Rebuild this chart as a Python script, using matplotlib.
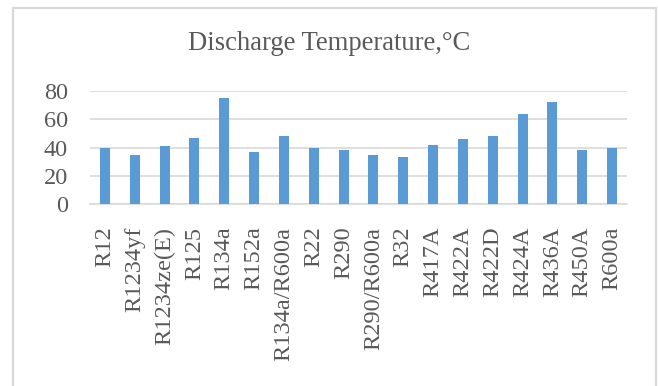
import matplotlib.pyplot as plt
from matplotlib.patches import Rectangle

# refrigerants and their discharge temperatures (°C)
refrigerants = ['R12', 'R1234yf', 'R1234ze(E)', 'R125', 'R134a', 'R152a',
                'R134a/R600a', 'R22', 'R290', 'R290/R600a', 'R32', 'R417A',
                'R422A', 'R422D', 'R424A', 'R436A', 'R450A', 'R600a']
discharge_temp = [40, 35, 41, 47, 75, 37, 48, 40, 38,
                  35, 33, 42, 46, 48, 63.5, 72, 38, 40]
y_ticks = [0, 20, 40, 60, 80]

plt.rcParams['font.family'] = ['Liberation Serif', 'DejaVu Serif']
text_color = '#595959'
grid_color = '#D9D9D9'

fig = plt.figure(figsize=(6.58, 3.86), dpi=100)
ax = fig.add_axes([90 / 658, 1 - 204.3 / 386, 537 / 658, 113.6 / 386])

# chart area frame (runs past the bottom edge)
fig.patches.append(Rectangle((13 / 658, -0.1), 643 / 658, 1.1 - 7.5 / 386,
                             transform=fig.transFigure, fill=False,
                             edgecolor=grid_color, linewidth=1.6))

x = range(len(refrigerants))
ax.bar(x, discharge_temp, width=0.34, color='#5B9BD5', zorder=3)

ax.set_xlim(-0.5, len(refrigerants) - 0.5)
ax.set_ylim(0, 80)
ax.set_yticks(y_ticks)
ax.set_yticklabels([str(v) for v in y_ticks])
ax.set_xticks(list(x))
ax.set_xticklabels(refrigerants, rotation=90)
ax.yaxis.grid(True, color=grid_color, linewidth=1.2, zorder=0)

for side in ['top', 'right', 'left']:
    ax.spines[side].set_visible(False)
ax.spines['bottom'].set_color(grid_color)
ax.spines['bottom'].set_linewidth(1.2)

ax.tick_params(axis='both', length=0, labelcolor=text_color)
ax.tick_params(axis='y', pad=16, labelsize=17.5)
ax.tick_params(axis='x', pad=16, labelsize=17.6)

fig.text(0.5, 1 - 44 / 386, 'Discharge Temperature,°C', ha='center',
         va='center', fontsize=19.2, color=text_color)

fig.savefig('out.png', dpi=100, facecolor='white')
